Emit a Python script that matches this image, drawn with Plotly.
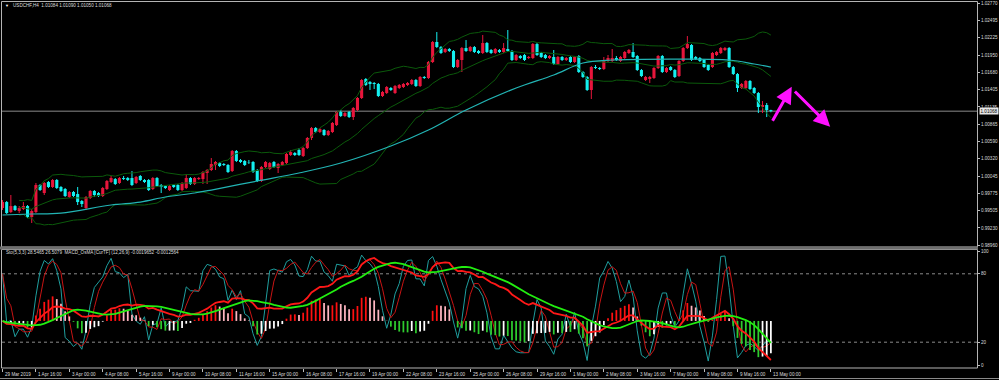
import numpy as np
import plotly.graph_objects as go

# ---------------- data ----------------
opens = [0.99543,0.99637,0.99480,0.99574,0.99496,0.99527,0.99574,0.99401,0.99480,0.99905,
         0.99779,0.99952,0.99874,0.99984,0.99874,0.99842,0.99716,0.99795,0.99763,0.99653,
         0.99543,0.99700,0.99811,0.99779,0.99732,0.99842,0.99952,0.99999,0.99937,1.00015,
         1.00015,1.00015,0.99937,1.00047,0.99984,0.99984,0.99842,1.00015,0.99905,0.99889,
         0.99826,0.99905,0.99905,0.99826,0.99858,1.00015,0.99921,0.99999,0.99999,1.00094,
         1.00141,1.00220,1.00251,1.00236,1.00220,1.00125,1.00440,1.00299,1.00283,1.00267,
         1.00267,1.00141,0.99968,1.00188,1.00157,1.00267,1.00173,1.00220,1.00251,1.00377,
         1.00409,1.00456,1.00362,1.00487,1.00645,1.00802,1.00739,1.00771,1.00692,1.00739,
         1.00849,1.01054,1.00991,1.01054,1.00975,1.01086,1.01275,1.01574,1.01526,1.01511,
         1.01495,1.01306,1.01353,1.01432,1.01353,1.01432,1.01448,1.01479,1.01495,1.01558,
         1.01463,1.01605,1.01589,1.01841,1.02156,1.02077,1.01999,1.02046,1.02014,1.01762,
         1.01873,1.02061,1.02014,1.02077,1.02014,1.01983,1.02140,1.02030,1.01983,1.02030,
         1.01999,1.02046,1.02014,1.01873,1.01936,1.01951,1.01904,1.01904,1.02124,1.01983,
         1.01951,1.01904,1.01920,1.01810,1.01920,1.01873,1.01920,1.01841,1.01936,1.01684,
         1.01605,1.01401,1.01762,1.01747,1.01731,1.01857,1.01857,1.01904,1.01857,1.01904,
         1.01983,1.01999,1.01936,1.01715,1.01558,1.01574,1.01589,1.01747,1.01936,1.01684,
         1.01762,1.01715,1.01621,1.01857,1.02061,1.02109,1.01920,1.01904,1.01873,1.01794,
         1.01762,1.01951,1.01983,1.02030,1.02061,1.01762,1.01652,1.01432,1.01432,1.01542,
         1.01432,1.01353,1.01133,1.01164,1.01084]
highs = [0.99669,0.99653,0.99748,0.99590,0.99574,0.99637,0.99590,0.99527,0.99937,0.99921,
         0.99952,0.99968,0.99999,0.99999,0.99889,0.99858,0.99811,0.99811,0.99874,0.99669,
         0.99732,0.99826,0.99826,0.99795,0.99874,0.99984,1.00047,1.00015,1.00031,1.00047,
         1.00031,1.00125,1.00047,1.00062,0.99999,0.99999,1.00031,1.00031,0.99921,0.99905,
         0.99905,0.99921,0.99921,0.99952,1.00078,1.00031,1.00031,1.00031,1.00125,1.00157,
         1.00330,1.00283,1.00267,1.00251,1.00236,1.00456,1.00456,1.00314,1.00299,1.00299,
         1.00283,1.00157,1.00204,1.00283,1.00267,1.00283,1.00251,1.00283,1.00409,1.00456,
         1.00424,1.00487,1.00503,1.00661,1.00818,1.00818,1.00802,1.00786,1.00771,1.00897,
         1.01070,1.01086,1.01054,1.01070,1.01133,1.01290,1.01574,1.01589,1.01542,1.01526,
         1.01511,1.01385,1.01463,1.01448,1.01479,1.01495,1.01511,1.01526,1.01574,1.01574,
         1.01621,1.01621,1.01857,1.02172,1.02313,1.02093,1.02061,1.02061,1.02030,1.01888,
         1.02077,1.02187,1.02093,1.02093,1.02030,1.02266,1.02156,1.02046,1.02061,1.02046,
         1.02140,1.02345,1.02030,1.01967,1.01951,1.01967,1.01936,1.02140,1.02140,1.01999,
         1.01967,1.01951,1.02030,1.01936,1.01936,1.01920,1.01936,1.01936,1.01951,1.01700,
         1.01621,1.01778,1.01794,1.01762,1.01920,1.01951,1.02046,1.01936,1.01936,1.02014,
         1.02046,1.02140,1.01951,1.01731,1.01621,1.01621,1.01762,1.01951,1.01951,1.01762,
         1.01778,1.01731,1.01873,1.02077,1.02250,1.02124,1.01936,1.01920,1.01888,1.01810,
         1.01999,1.02014,1.02077,1.02077,1.02077,1.01778,1.01668,1.01511,1.01558,1.01558,
         1.01448,1.01369,1.01227,1.01196,1.01090]
lows = [0.99512,0.99449,0.99464,0.99496,0.99464,0.99512,0.99386,0.99307,0.99464,0.99811,
        0.99748,0.99858,0.99858,0.99842,0.99795,0.99716,0.99700,0.99716,0.99590,0.99559,
        0.99512,0.99685,0.99716,0.99716,0.99716,0.99826,0.99937,0.99905,0.99921,0.99984,
        0.99968,0.99889,0.99921,0.99968,0.99937,0.99811,0.99826,0.99874,0.99779,0.99842,
        0.99811,0.99858,0.99811,0.99811,0.99842,0.99905,0.99905,0.99984,0.99921,0.99921,
        1.00125,1.00141,1.00188,1.00204,1.00094,1.00110,1.00267,1.00251,1.00204,1.00236,
        1.00094,0.99952,0.99952,1.00173,1.00141,1.00173,1.00094,1.00204,1.00236,1.00362,
        1.00362,1.00362,1.00346,1.00472,1.00613,1.00723,1.00723,1.00676,1.00676,1.00723,
        1.00834,1.00975,1.00975,1.00960,1.00928,1.01070,1.01259,1.01463,1.01401,1.01416,
        1.01290,1.01290,1.01338,1.01385,1.01338,1.01416,1.01432,1.01463,1.01479,1.01448,
        1.01448,1.01574,1.01574,1.01825,1.02061,1.01967,1.01983,1.01999,1.01747,1.01747,
        1.01684,1.01999,1.01999,1.01983,1.01967,1.01967,1.01983,1.01967,1.01967,1.01983,
        1.01983,1.01999,1.01857,1.01857,1.01888,1.01857,1.01888,1.01888,1.01936,1.01904,
        1.01888,1.01888,1.01794,1.01794,1.01857,1.01857,1.01825,1.01825,1.01668,1.01589,
        1.01385,1.01259,1.01731,1.01715,1.01715,1.01841,1.01841,1.01857,1.01841,1.01888,
        1.01967,1.01904,1.01700,1.01605,1.01542,1.01511,1.01574,1.01731,1.01668,1.01668,
        1.01700,1.01589,1.01605,1.01841,1.02046,1.01857,1.01873,1.01841,1.01747,1.01700,
        1.01747,1.01936,1.01967,1.02014,1.01747,1.01637,1.01369,1.01416,1.01416,1.01401,
        1.01338,1.01038,1.01038,1.00975,1.01050]
closes = [0.99637,0.99464,0.99574,0.99512,0.99543,0.99574,0.99401,0.99496,0.99905,0.99826,
          0.99937,0.99874,0.99984,0.99858,0.99811,0.99732,0.99795,0.99732,0.99637,0.99606,
          0.99716,0.99811,0.99748,0.99732,0.99858,0.99968,1.00015,0.99921,1.00015,0.99999,
          0.99984,0.99905,1.00031,0.99984,0.99952,0.99826,1.00015,0.99889,0.99874,0.99858,
          0.99889,0.99874,0.99826,0.99937,1.00015,0.99921,1.00015,1.00015,1.00110,1.00141,
          1.00236,1.00267,1.00204,1.00220,1.00110,1.00440,1.00283,1.00267,1.00220,1.00262,
          1.00110,0.99968,1.00188,1.00267,1.00251,1.00188,1.00236,1.00267,1.00393,1.00424,
          1.00377,1.00377,1.00487,1.00645,1.00802,1.00739,1.00786,1.00692,1.00755,1.00881,
          1.01054,1.00991,1.01038,1.00975,1.01117,1.01275,1.01558,1.01479,1.01495,1.01495,
          1.01306,1.01369,1.01448,1.01401,1.01463,1.01479,1.01495,1.01511,1.01558,1.01463,
          1.01605,1.01589,1.01841,1.02156,1.02077,1.01983,1.02046,1.02014,1.01762,1.01873,
          1.02061,1.02014,1.02077,1.01999,1.01983,1.02140,1.01999,1.01983,1.02046,1.01999,
          1.02061,1.02014,1.01873,1.01951,1.01904,1.01873,1.01920,1.02124,1.01951,1.01920,
          1.01904,1.01936,1.01810,1.01920,1.01873,1.01904,1.01841,1.01920,1.01684,1.01605,
          1.01401,1.01762,1.01747,1.01731,1.01857,1.01904,1.01904,1.01873,1.01920,1.01999,
          1.02030,1.01920,1.01715,1.01621,1.01605,1.01605,1.01747,1.01936,1.01684,1.01747,
          1.01715,1.01605,1.01857,1.02061,1.02124,1.01873,1.01888,1.01857,1.01762,1.01715,
          1.01983,1.01999,1.02061,1.02061,1.01762,1.01652,1.01432,1.01495,1.01542,1.01416,
          1.01353,1.01133,1.01164,1.01086,1.01068]

# slow moving average (teal line), read at sample bars
ma_bars = [0, 7, 14, 26, 33, 39, 46, 50, 61, 71, 81, 93, 102, 111, 123, 132, 139, 146, 162, 174, 180, 184]
ma_vals = [0.99433, 0.99449, 0.99464, 0.99590, 0.99637, 0.99716, 0.99779, 0.99826, 0.99968, 1.00094,
           1.00251, 1.00519, 1.00771, 1.01086, 1.01432, 1.01637, 1.01825, 1.01873, 1.01888, 1.01873,
           1.01810, 1.01762]

date_labels = ["29 Mar 2019", "1 Apr 16:00", "3 Apr 00:00", "4 Apr 08:00", "5 Apr 16:00", "9 Apr 00:00",
               "10 Apr 08:00", "11 Apr 16:00", "15 Apr 00:00", "16 Apr 08:00", "17 Apr 16:00",
               "19 Apr 00:00", "22 Apr 08:00", "23 Apr 16:00", "25 Apr 00:00", "26 Apr 08:00",
               "29 Apr 16:00", "1 May 00:00", "2 May 08:00", "3 May 16:00", "7 May 00:00",
               "8 May 08:00", "9 May 16:00", "13 May 00:00"]
date_bars = [8 * k for k in range(len(date_labels))]

price_ticks = [1.02770, 1.02495, 1.02225, 1.01950, 1.01680, 1.01405, 1.01135, 1.00865,
               1.00590, 1.00320, 1.00045, 0.99775, 0.99505, 0.99230, 0.98960]
stoch_ticks = [0, 20, 80, 100]
stoch_levels = [20, 80]
bid_price = 1.01068

arrow_up_from = (184.2, 1.00892)
arrow_up_to = (189.0, 1.01452)
arrow_dn_from = (189.4, 1.01400)
arrow_dn_to = (198.2, 1.00823)

title_main = "USDCHF,H4  1.01084 1.01090 1.01050 1.01068"
title_sub = "Sto(5,3,3) 28.5465 26.5079  MACD_OsMA [CurTF] (12,26,9) -0.0019652 -0.0012564"

# ---------------- indicators ----------------
O = np.array(opens); Hh = np.array(highs); Lw = np.array(lows); C = np.array(closes)
n = len(C)
idx = np.arange(n)

bb_mid = np.full(n, np.nan); bb_up = np.full(n, np.nan); bb_lo = np.full(n, np.nan)
for i in range(4, n):
    w = C[max(0, i - 19):i + 1]
    m = w.mean(); s = w.std()
    bb_mid[i] = m; bb_up[i] = m + 2 * s; bb_lo[i] = m - 2 * s

hh = np.array([Hh[max(0, i - 4):i + 1].max() for i in range(n)])
ll = np.array([Lw[max(0, i - 4):i + 1].min() for i in range(n)])
num = C - ll; den = hh - ll
stK = np.array([100 * num[max(0, i - 2):i + 1].sum() / max(den[max(0, i - 2):i + 1].sum(), 1e-9) for i in range(n)])
stD = np.array([stK[max(0, i - 2):i + 1].mean() for i in range(n)])

def ema(x, p):
    a = 2.0 / (p + 1); out = np.empty_like(x); out[0] = x[0]
    for i in range(1, len(x)):
        out[i] = a * x[i] + (1 - a) * out[i - 1]
    return out

macd = ema(C, 12) - ema(C, 26)
sig = np.array([macd[max(0, i - 8):i + 1].mean() for i in range(n)])
osma = macd - sig
hist_col = []
for i in range(n):
    prev = osma[i - 1] if i > 0 else 0
    if osma[i] >= 0:
        hist_col.append('#ff1010' if osma[i] >= prev else '#ffb6c1')
    else:
        hist_col.append('#2ecc2e' if osma[i] < prev else '#ffffff')

# ---------------- figure ----------------
W, HP = 999, 380
def px(x): return x / W
def py(y): return 1 - y / HP

RED = '#e8163c'
CYAN = '#14f0f0'
FONT = 'Liberation Sans'
TXT = '#dcdcdc'

fig = go.Figure()

up = C >= O
body_lo = np.minimum(O, C)
body_h = np.maximum(np.abs(C - O), 0.00004)
fig.add_trace(go.Bar(x=idx, y=body_h, base=body_lo, width=0.74,
                     marker=dict(color=[RED if u else CYAN for u in up], line=dict(width=0)),
                     xaxis='x', yaxis='y', hoverinfo='skip'))
for flag, colr in ((True, RED), (False, CYAN)):
    wx, wy = [], []
    for i in range(n):
        if up[i] == flag:
            wx += [i, i, None]; wy += [Lw[i], Hh[i], None]
    fig.add_trace(go.Scatter(x=wx, y=wy, mode='lines', line=dict(color=colr, width=1),
                             xaxis='x', yaxis='y', hoverinfo='skip'))

for band in (bb_up, bb_mid, bb_lo):
    fig.add_trace(go.Scatter(x=idx, y=band, mode='lines', line=dict(color='#0b5a0b', width=1),
                             xaxis='x', yaxis='y', hoverinfo='skip'))
fig.add_trace(go.Scatter(x=ma_bars, y=ma_vals, mode='lines', line=dict(color='#22b4b4', width=1.2, shape='spline'),
                         xaxis='x', yaxis='y', hoverinfo='skip'))

# lower pane: stochastic
fig.add_trace(go.Scatter(x=idx, y=stK, mode='lines', line=dict(color='#1f9e9e', width=1),
                         xaxis='x2', yaxis='y2', hoverinfo='skip'))
fig.add_trace(go.Scatter(x=idx, y=stD, mode='lines', line=dict(color='#c81414', width=1),
                         xaxis='x2', yaxis='y2', hoverinfo='skip'))
# OsMA histogram
fig.add_trace(go.Bar(x=idx, y=osma, width=0.42, marker=dict(color=hist_col, line=dict(width=0)),
                     xaxis='x2', yaxis='y3', hoverinfo='skip'))
# MACD lines
fig.add_trace(go.Scatter(x=idx, y=macd, mode='lines', line=dict(color='#ff1818', width=1.8),
                         xaxis='x2', yaxis='y4', hoverinfo='skip'))
fig.add_trace(go.Scatter(x=idx, y=sig, mode='lines', line=dict(color='#22ee10', width=1.8),
                         xaxis='x2', yaxis='y4', hoverinfo='skip'))

# axis geometry
bar_px = 4.176
x0_px, x1_px = 2.0, 977.0
first_bar_px = 2.5
xr0 = -(first_bar_px - x0_px) / bar_px
xr1 = xr0 + (x1_px - x0_px) / bar_px

main_top, main_bot = 2.0, 247.0
pp = 0.0001574
price_at_3 = 1.02770
yr_top = price_at_3 + (3 - main_top) * pp
yr_bot = price_at_3 - (main_bot - 3) * pp

low_top, low_bot = 249.0, 368.0
st_px = 1.14
st_bot = 0 - (low_bot - 365) / st_px
st_top = 100 + (251 - low_top) / st_px

vmin = min(macd.min(), sig.min()); vmax = max(macd.max(), sig.max())
sc = (360 - 258) / (vmax - vmin)
m_bot = vmin - (low_bot - 360) / sc
m_top = vmax + (258 - low_top) / sc
hist_k = 1.9

xcommon = dict(domain=[px(x0_px), px(x1_px)], range=[xr0, xr1], showgrid=False, zeroline=False,
               showline=False)
fig.update_layout(
    width=W, height=HP, margin=dict(l=0, r=0, t=0, b=0),
    paper_bgcolor='black', plot_bgcolor='black', showlegend=False, barmode='overlay',
    xaxis=dict(**xcommon, anchor='y', showticklabels=False, ticks=''),
    xaxis2=dict(**xcommon, anchor='y2', matches='x', showticklabels=False, ticks='outside',
                tickvals=date_bars, ticklen=3, tickcolor='#bdbdbd', tickwidth=1),
    yaxis=dict(domain=[py(main_bot), py(main_top)], range=[yr_bot, yr_top], side='right', anchor='x',
               tickvals=price_ticks, ticktext=[f"{v:.5f}" for v in price_ticks], ticks='outside',
               ticklen=2, tickcolor='#bdbdbd', tickfont=dict(family=FONT, size=4.6, color=TXT),
               showgrid=False, zeroline=False, showline=False, automargin=False),
    yaxis2=dict(domain=[py(low_bot), py(low_top)], range=[st_bot, st_top], side='right', anchor='x2',
                tickvals=stoch_ticks, ticktext=[str(v) for v in stoch_ticks], ticks='outside', ticklen=2,
                tickcolor='#bdbdbd', tickfont=dict(family=FONT, size=4.6, color=TXT),
                showgrid=False, zeroline=False, showline=False, automargin=False),
    yaxis3=dict(overlaying='y2', range=[m_bot / hist_k, m_top / hist_k], visible=False, anchor='x2'),
    yaxis4=dict(overlaying='y2', range=[m_bot, m_top], visible=False, anchor='x2'),
)

shapes = []
# bid line
shapes.append(dict(type='line', xref='x domain', x0=0, x1=1, yref='y', y0=bid_price, y1=bid_price,
                   line=dict(color='#5c5c5c', width=1.5), layer='below'))
for lv in stoch_levels:
    shapes.append(dict(type='line', xref='x2 domain', x0=0, x1=1, yref='y2', y0=lv, y1=lv,
                       line=dict(color='#8a8a8a', width=1, dash='dot'), layer='below'))
# frames
shapes.append(dict(type='rect', xref='paper', yref='paper', x0=px(1.5), x1=px(977.5), y0=py(main_bot), y1=py(1.5),
                   line=dict(color='#b4b4b4', width=1)))
shapes.append(dict(type='rect', xref='paper', yref='paper', x0=px(1.5), x1=px(977.5), y0=py(low_bot), y1=py(low_top + 0.5),
                   line=dict(color='#b4b4b4', width=1)))
shapes.append(dict(type='rect', xref='paper', yref='paper', x0=0, x1=px(978), y0=py(249.5), y1=py(246.5),
                   fillcolor='#6e6e6e', line=dict(width=0)))
shapes.append(dict(type='line', xref='paper', yref='paper', x0=0, x1=1, y0=py(378.5), y1=py(378.5),
                   line=dict(color='#8a8a8a', width=1)))
fig.update_layout(shapes=shapes)

ann = []
ann.append(dict(xref='paper', yref='paper', x=px(3), y=py(5.5), xanchor='left', yanchor='middle',
                text='▼', showarrow=False, font=dict(family=FONT, size=4, color='white')))
ann.append(dict(xref='paper', yref='paper', x=px(10.5), y=py(5.5), xanchor='left', yanchor='middle',
                text=title_main, showarrow=False, font=dict(family=FONT, size=4.6, color=TXT)))
ann.append(dict(xref='paper', yref='paper', x=px(3.5), y=py(253), xanchor='left', yanchor='middle',
                text=title_sub, showarrow=False, font=dict(family=FONT, size=4.6, color=TXT)))
for b, lbl in zip(date_bars, date_labels):
    ann.append(dict(xref='x2', yref='paper', x=b, y=py(374), xanchor='left', yanchor='middle', xshift=0.5,
                    text=lbl, showarrow=False, font=dict(family=FONT, size=4.6, color=TXT)))
ann.append(dict(xref='paper', yref='y', x=px(979), y=bid_price, xanchor='left', yanchor='middle',
                text=f"{bid_price:.5f}", showarrow=False, bgcolor='#e6e6e6', borderpad=0.5,
                font=dict(family=FONT, size=4.6, color='black')))
for (a0, a1) in ((arrow_up_from, arrow_up_to), (arrow_dn_from, arrow_dn_to)):
    ann.append(dict(xref='x', yref='y', x=a1[0], y=a1[1], axref='x', ayref='y', ax=a0[0], ay=a0[1],
                    text='', showarrow=True, arrowhead=2, arrowsize=1.1, arrowwidth=3, arrowcolor='#ff10ff'))
fig.update_layout(annotations=ann)

fig.write_html("out.html",
               config={'displayModeBar': False, 'staticPlot': True},
               post_script="document.body.style.margin='0';document.body.style.padding='0';"
                           "document.body.style.background='black';document.body.style.overflow='hidden';")
